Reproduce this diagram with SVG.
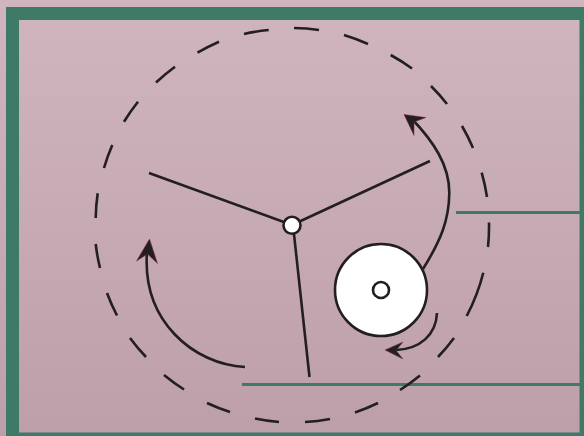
<svg xmlns="http://www.w3.org/2000/svg" width="584" height="436" viewBox="0 0 584 436">
<defs>
<linearGradient id="bg" x1="0" y1="0" x2="0" y2="1"><stop offset="0" stop-color="#d0b5bf"/><stop offset="1" stop-color="#bd9fa9"/></linearGradient>
</defs>
<style>
.frame{fill:none;stroke:#3f7a68;stroke-width:3}
.spoke,.curve,.orbit{fill:none;stroke:#231f20;stroke-width:2.600}
.head{fill:#231f20;stroke:#7a2a3c;stroke-width:.5;stroke-linejoin:miter}
.disc{fill:#fff;stroke:#231f20;stroke-width:2.600}
</style>
<rect width="584" height="436" fill="url(#bg)"/>
<g id="frame">
<path d="M6 436V7H584V20H19V432.500H584V436Z" fill="#3f7a68"/>
<path d="M579.500 20H584V433H579.500Z" fill="#3f7a68"/>
<path d="M456 212.500H580M242 384.500H580" class="frame"/>
</g>
<g id="orbit">
<path class="orbit" d="M294 28A197 197 0 0 1 319 30M344 35A197 197 0 0 1 368 44M390.700 55A197 197 0 0 1 412 68.500M431 86A197 197 0 0 1 447 104M462 126A197 197 0 0 1 473 148M481.700 172.700A197 197 0 0 1 487 197M489 222.500A197 197 0 0 1 488 247M483.300 272.700A197 197 0 0 1 466.700 316M454 338A197 197 0 0 1 438 357M420 375.500A197 197 0 0 1 400 390M378 403A197 197 0 0 1 355 412.500M330 419A197 197 0 0 1 305 422M279 422A197 197 0 0 1 255 418.500M230 412A197 197 0 0 1 207 403M184 389.500A197 197 0 0 1 164 375M146 357A197 197 0 0 1 130 338M117 315.500A197 197 0 0 1 107 293M100 268A197 197 0 0 1 95.700 244M95.700 218A197 197 0 0 1 97.700 193.300M104 168A197 197 0 0 1 112.300 145M124 121.700A197 197 0 0 1 138 101.700M156 82.500A197 197 0 0 1 175 66.700M197.500 52.700A197 197 0 0 1 219 41.700M244 34A197 197 0 0 1 268.700 30"/>
</g>
<g id="connectors">
<path class="spoke" d="M149 173L292 225M430 161L292 225M293 225L309.500 377"/>
<path class="curve" d="M423 269C441 240 449 220 449.300 193C449.500 165 433 141 412 119"/>
<path class="head" d="M404 114.500L426 117.500L414 122L414 135.500Z"/>
<path class="curve" d="M245 367C193 364 142 321 147 252"/>
<path class="head" d="M149.500 239L157.500 263.500L147.500 254L136.500 261Z"/>
<path class="curve" d="M437 313C436 335 420 349 396 350"/>
<path class="head" d="M385 350L403 342L396 350.500L403 359Z"/>
</g>
<g id="hub"><circle class="disc" cx="292" cy="225.300" r="8.500"/></g>
<g id="roller"><circle class="disc" cx="381" cy="290" r="46"/><circle class="disc" cx="381" cy="290" r="8"/></g>
</svg>
